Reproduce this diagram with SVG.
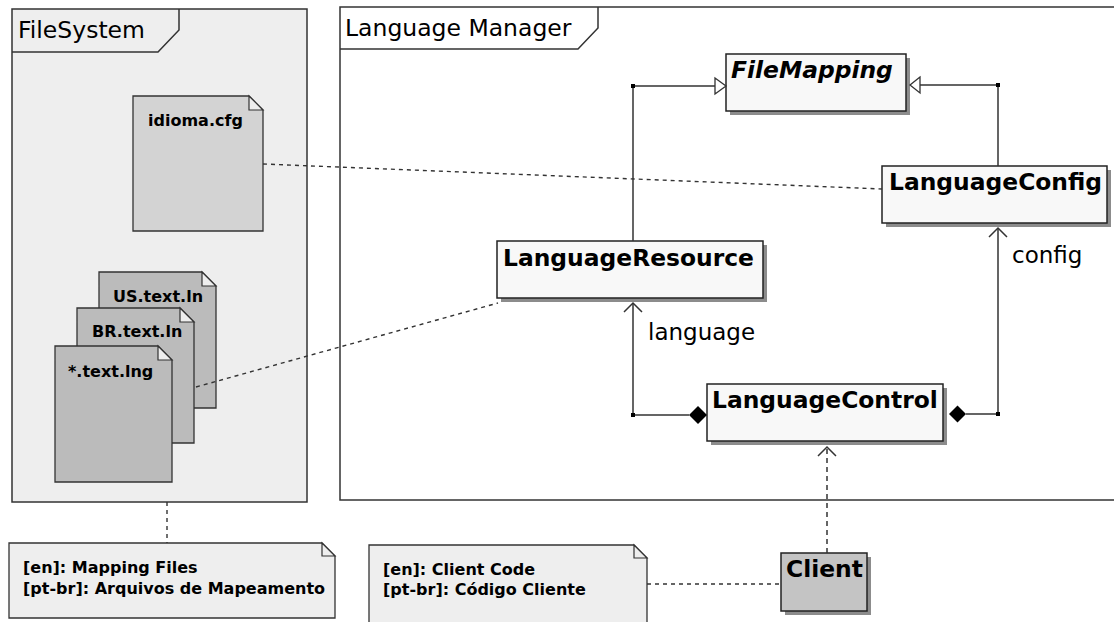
<svg xmlns="http://www.w3.org/2000/svg" width="1114" height="622" viewBox="0 0 1114 622">
  <style>
    text { font-family: "DejaVu Sans", "Liberation Sans", sans-serif; fill: #000; }
    .frame { stroke: #333; stroke-width: 1.5; }
    .title { font-size: 23.5px; }
    .cls { fill: #F8F8F8; stroke: #222; stroke-width: 1.5; }
    .shadow { fill: #8C8C8C; }
    .cname { font-size: 23.4px; font-weight: bold; }
    .doc { stroke: #333; stroke-width: 1.3; }
    .fold { fill: #EEEEEE; stroke: #333; stroke-width: 1.2; }
    .small { font-size: 16px; font-weight: bold; }
    .note { fill: #EEEEEE; stroke: #333; stroke-width: 1.3; }
    .line { fill: none; stroke: #333; stroke-width: 1.5; }
    .dash { fill: none; stroke: #333; stroke-width: 1.4; stroke-dasharray: 4 4; }
    .dep { fill: none; stroke: #333; stroke-width: 1.5; stroke-dasharray: 5 4; }
    .label { font-size: 23px; }
  </style>

  <!-- package frames -->
  <g id="filesystem">
    <rect class="frame" x="12" y="9" width="295" height="493" fill="#EEEEEE"/>
    <path class="frame" d="M12,52 H158 L179,30 V9" fill="none"/>
    <text class="title" x="18" y="38">FileSystem</text>
  </g>
  <g id="language-manager">
    <rect class="frame" x="340" y="7" width="790" height="493" fill="#FFFFFF"/>
    <path class="frame" d="M340,49 H578 L598,28 V7" fill="none"/>
    <text class="title" x="345" y="36">Language Manager</text>
  </g>

  <!-- artifacts -->
  <g id="idioma-cfg">
    <path class="doc" d="M133,96 H249 L263,110 V231 H133 Z" fill="#D3D3D3"/>
    <path class="fold" d="M249,96 V110 H263 Z"/>
    <text class="small" x="148" y="126">idioma.cfg</text>
  </g>
  <g id="us-text-ln">
    <path class="doc" d="M99,272 H202 L216,286 V408 H99 Z" fill="#BBBBBB"/>
    <path class="fold" d="M202,272 V286 H216 Z"/>
    <text class="small" x="113" y="302">US.text.ln</text>
  </g>
  <g id="br-text-ln">
    <path class="doc" d="M77,308 H180 L194,322 V443 H77 Z" fill="#BBBBBB"/>
    <path class="fold" d="M180,308 V322 H194 Z"/>
    <text class="small" x="92" y="337">BR.text.ln</text>
  </g>
  <g id="any-text-lng">
    <path class="doc" d="M55,346 H158 L172,360 V482 H55 Z" fill="#BBBBBB"/>
    <path class="fold" d="M158,346 V360 H172 Z"/>
    <text class="small" x="68" y="377">*.text.lng</text>
  </g>

  <!-- classes -->
  <g id="file-mapping">
    <rect class="shadow" x="730" y="58" width="180" height="57"/>
    <rect class="cls" x="726" y="54" width="180" height="57"/>
    <text class="cname" x="731" y="78" font-style="italic">FileMapping</text>
  </g>
  <g id="language-config">
    <rect class="shadow" x="886" y="170" width="225" height="57"/>
    <rect class="cls" x="882" y="166" width="225" height="57"/>
    <text class="cname" x="889" y="190">LanguageConfig</text>
  </g>
  <g id="language-resource">
    <rect class="shadow" x="501" y="245" width="266" height="57"/>
    <rect class="cls" x="497" y="241" width="266" height="57"/>
    <text class="cname" x="503" y="266">LanguageResource</text>
  </g>
  <g id="language-control">
    <rect class="shadow" x="711" y="388" width="236" height="57"/>
    <rect class="cls" x="707" y="384" width="236" height="57"/>
    <text class="cname" x="712" y="408">LanguageControl</text>
  </g>
  <g id="client">
    <rect class="shadow" x="785" y="557" width="86" height="58"/>
    <rect class="cls" x="781" y="553" width="86" height="58" style="fill:#C4C4C4"/>
    <text class="cname" x="786" y="577">Client</text>
  </g>

  <!-- notes -->
  <g id="note-mapping-files">
    <path class="note" d="M9,543 H322 L335,556 V618 H9 Z"/>
    <path class="fold" d="M322,543 V556 H335 Z"/>
    <text class="small" x="23" y="573">[en]: Mapping Files</text>
    <text class="small" x="23" y="594">[pt-br]: Arquivos de Mapeamento</text>
  </g>
  <g id="note-client-code">
    <path class="note" d="M369,545 H634 L647,558 V630 H369 Z"/>
    <path class="fold" d="M634,545 V558 H647 Z"/>
    <text class="small" x="383" y="575">[en]: Client Code</text>
    <text class="small" x="383" y="595">[pt-br]: Código Cliente</text>
  </g>

  <!-- connectors -->
  <g id="connectors">
    <!-- generalizations to FileMapping -->
    <polyline class="line" points="633,241 633,86 715,86"/>
    <polygon points="715,78 726,86 715,94" fill="#FFFFFF" stroke="#333" stroke-width="1.3"/>
    <polyline class="line" points="998,166 998,85 920,85"/>
    <polygon points="920,77 910,85 920,93" fill="#FFFFFF" stroke="#333" stroke-width="1.3"/>
    <rect x="631" y="84" width="4" height="4" fill="#000"/>
    <rect x="996" y="83" width="4" height="4" fill="#000"/>

    <!-- composition: LanguageControl -> LanguageResource -->
    <polyline class="line" points="689,415 633,415 633,303"/>
    <polyline class="line" points="624,312 633,303 642,312"/>
    <polygon points="689,415 698,406 707,415 698,424" fill="#000"/>
    <rect x="631" y="413" width="4" height="4" fill="#000"/>
    <text class="label" x="648" y="340">language</text>

    <!-- composition: LanguageControl -> LanguageConfig -->
    <polyline class="line" points="966,414 998,414 998,228"/>
    <polyline class="line" points="989,237 998,228 1007,237"/>
    <polygon points="949,414 957.5,405.5 966,414 957.5,422.5" fill="#000"/>
    <rect x="996" y="412" width="4" height="4" fill="#000"/>
    <text class="label" x="1012" y="263">config</text>

    <!-- dependency: Client -> LanguageControl -->
    <line class="dep" x1="827" y1="553" x2="827" y2="448"/>
    <polyline class="line" points="818,456 827,447 836,456"/>

    <!-- note and file links -->
    <line class="dash" x1="263" y1="164" x2="882" y2="189"/>
    <line class="dash" x1="196" y1="387" x2="498" y2="303"/>
    <line class="dash" x1="167" y1="502" x2="167" y2="543"/>
    <line class="dash" x1="647" y1="584" x2="781" y2="584"/>
  </g>
</svg>
